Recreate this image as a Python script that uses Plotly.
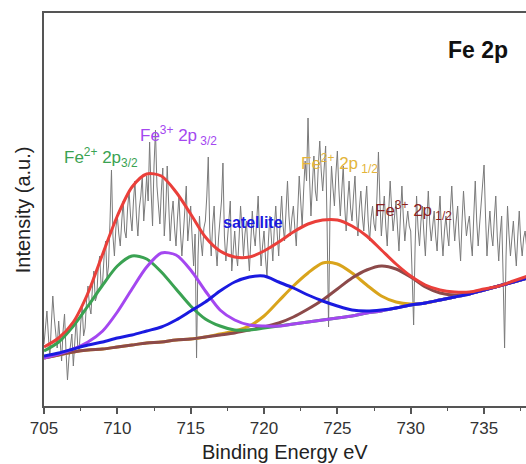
import plotly.graph_objects as go

# ---------------- data (intensity in arbitrary units) ----------------
energy_fit = list(range(705, 739))  # 705 ... 738 eV

envelope = [59, 68, 84, 113, 152, 190, 219, 232, 230, 214, 192, 169, 155, 149, 149, 155,
            164, 174, 182, 186, 186, 180, 170, 156, 142, 130, 121, 116, 114, 114, 117, 120, 125, 130]
fe2_2p32 = [55, 64, 80, 100, 121, 140, 150, 147, 134, 117, 100, 87, 80, 76, 76, 78,
            80, 82, 84, 86, 88, 90, 93, 95, 98, 101, 103, 106, 109, 112, 116, 120, 124, 128]
fe3_2p32 = [48, 52, 57, 64, 75, 94, 117, 139, 153, 151, 136, 115, 96, 86, 81, 80,
            80, 82, 84, 86, 88, 90, 93, 95, 98, 101, 103, 106, 109, 112, 116, 120, 124, 128]
satellite = [50, 53, 57, 61, 64, 68, 71, 75, 79, 86, 95, 104, 115, 124, 129, 130,
             124, 118, 111, 105, 100, 96, 95, 96, 98, 101, 103, 106, 109, 112, 116, 120, 124, 128]
fe2_2p12 = [48, 51, 54, 56, 57, 59, 61, 63, 64, 66, 67, 69, 72, 75, 80, 90,
            105, 120, 133, 143, 142, 133, 121, 110, 104, 102, 103, 106, 109, 112, 116, 120, 124, 128]
fe3_2p12 = [48, 51, 54, 56, 57, 59, 61, 63, 64, 66, 67, 69, 71, 73, 76, 79,
            83, 89, 97, 106, 117, 128, 136, 140, 137, 129, 119, 113, 111, 113, 116, 120, 124, 128]

raw_start = 705.0
raw_step = 0.1
raw_counts = [
    62, 80, 95, 70, 48, 82, 110, 88, 70, 58,
    85, 60, 45, 75, 92, 55, 26, 48, 60, 72,
    40, 65, 88, 60, 55, 82, 100, 70, 78, 105,
    120, 100, 92, 118, 135, 105, 110, 140, 150, 118,
    125, 150, 165, 128, 140, 185, 236, 170, 150, 178,
    190, 172, 160, 185, 205, 175, 168, 198, 215, 190,
    175, 205, 225, 190, 170, 198, 210, 230, 185, 205,
    230, 205, 264, 215, 180, 240, 276, 220, 200, 182,
    215, 238, 170, 195, 240, 205, 165, 190, 205, 178,
    160, 188, 210, 175, 150, 172, 195, 220, 165, 185,
    200, 168, 140, 172, 48, 150, 190, 165, 150, 178,
    185, 210, 249, 175, 150, 182, 200, 160, 140, 168,
    190, 205, 243, 170, 145, 165, 180, 205, 135, 160,
    175, 152, 140, 168, 200, 178, 150, 172, 185, 158,
    135, 165, 195, 172, 160, 185, 210, 170, 140, 160,
    175, 148, 130, 165, 190, 168, 145, 178, 200, 172,
    150, 185, 210, 180, 165, 195, 225, 190, 170, 188,
    200, 178, 160, 195, 230, 205, 180, 215, 245, 225,
    288, 230, 190, 222, 250, 215, 205, 240, 265, 235,
    215, 238, 260, 180, 79, 195, 240, 218, 200, 232,
    255, 218, 190, 215, 240, 200, 175, 205, 225, 198,
    185, 210, 230, 192, 170, 198, 215, 190, 175, 200,
    220, 185, 165, 188, 200, 182, 175, 210, 254, 205,
    170, 192, 210, 180, 160, 195, 225, 198, 175, 190,
    205, 178, 155, 190, 220, 188, 165, 182, 195, 180,
    175, 130, 81, 160, 210, 178, 160, 185, 200, 172,
    150, 185, 215, 182, 165, 180, 195, 170, 155, 188,
    210, 172, 150, 175, 190, 172, 160, 195, 220, 188,
    165, 185, 200, 168, 145, 185, 215, 190, 170, 182,
    190, 165, 150, 190, 225, 185, 160, 182, 200, 220,
    241, 190, 150, 175, 195, 172, 160, 188, 210, 170,
    145, 172, 190, 130, 58, 150, 200, 172, 150, 168,
    185, 160, 140, 170, 195, 165, 150, 168, 175, 160,
]
raw_energy = [round(raw_start + raw_step * i, 2) for i in range(len(raw_counts))]

x_ticks = [705, 710, 715, 720, 725, 730, 735]

# ---------------- figure ----------------
fig = go.Figure()

fig.add_trace(go.Scatter(x=raw_energy, y=raw_counts, mode="lines",
                         line=dict(color="#7a7a7a", width=1), showlegend=False))

components = [
    (fe2_2p12, "#d9a41c"),
    (fe3_2p12, "#8c4a4a"),
    (fe2_2p32, "#3aa252"),
    (fe3_2p32, "#a447f0"),
    (satellite, "#1a1ae0"),
    (envelope, "#ea3f3a"),
]
for ys, col in components:
    fig.add_trace(go.Scatter(x=energy_fit, y=ys, mode="lines",
                             line=dict(color=col, width=3, shape="spline", smoothing=0.8),
                             showlegend=False))

lab_font = "Arial, Liberation Sans, sans-serif"
labels = [
    (706.2, 249, "Fe<sup>2+</sup> 2p<sub>3/2</sub>", "#3aa252"),
    (711.4, 271, "Fe<sup>3+</sup> 2p<sub> 3/2</sub>", "#a447f0"),
    (722.4, 243, "Fe<sup>2+</sup> 2p<sub> 1/2</sub>", "#e3b43a"),
    (727.4, 196, "Fe<sup>3+</sup> 2p<sub> 1/2</sub>", "#8b1f1f"),
]
for lx, ly, txt, col in labels:
    fig.add_annotation(x=lx, y=ly, xref="x", yref="y", text=txt, showarrow=False,
                       xanchor="left", yanchor="middle",
                       font=dict(family=lab_font, size=17, color=col))

fig.add_annotation(x=717.1, y=184, xref="x", yref="y", text="<b>satellite</b>", showarrow=False,
                   xanchor="left", yanchor="middle",
                   font=dict(family=lab_font, size=16, color="#1a1ae0"))
fig.add_annotation(x=734.6, y=356, xref="x", yref="y", text="<b>Fe 2p</b>", showarrow=False,
                   xanchor="center", yanchor="middle",
                   font=dict(family=lab_font, size=23, color="#111111"))

fig.add_annotation(x=-0.044, y=0.5, xref="paper", yref="paper", text="Intensity (a.u.)",
                   showarrow=False, textangle=-90, xanchor="center", yanchor="middle",
                   font=dict(family=lab_font, size=20, color="#222222"))
fig.add_annotation(x=0.5, y=-0.117, xref="paper", yref="paper", text="Binding Energy eV",
                   showarrow=False, xanchor="center", yanchor="middle",
                   font=dict(family=lab_font, size=20, color="#222222"))

fig.update_layout(
    width=526, height=464,
    margin=dict(l=44, r=0, t=13, b=58),
    paper_bgcolor="white", plot_bgcolor="white",
    xaxis=dict(range=[705, 737.86], tickvals=x_ticks, ticks="outside", ticklen=6,
               tickwidth=1.5, tickcolor="#555555",
               minor=dict(dtick=2.5, tick0=705, ticks="outside", ticklen=3,
                          tickcolor="#555555", tickwidth=1.2),
               showline=True, linecolor="#555555", linewidth=1.5, mirror=True,
               showgrid=False, zeroline=False,
               tickfont=dict(family=lab_font, size=17, color="#333333")),
    yaxis=dict(range=[0, 393], showticklabels=False, ticks="", showline=True,
               linecolor="#555555", linewidth=1.5, mirror=False,
               showgrid=False, zeroline=False),
)

fig.write_html("out.html")
